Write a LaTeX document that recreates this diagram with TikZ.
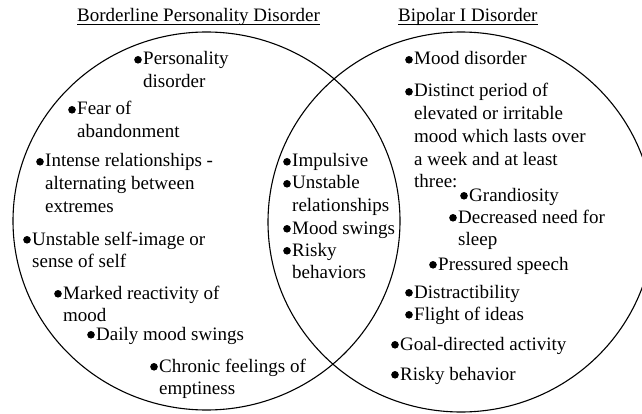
\documentclass[tikz,border=0pt]{standalone}
\usepackage{fontspec}
\setmainfont{Liberation Serif}
\tikzset{
  itm/.style={anchor=base west, inner sep=0pt, font=\fontsize{19}{22.7}\selectfont},
  ttl/.style={anchor=base west, inner sep=0pt, font=\fontsize{19}{22.7}\selectfont},
  ring/.style={draw, line width=1.1pt},
  bul/.style={fill=black}
}
\newcommand\bitem[3]{%
  \node[itm] (#1) at (#2) {\begin{tabular}[t]{@{}l@{}}#3\end{tabular}};
  \fill[bul] (#1.base west) ++(-5,-5.2) circle (3.8pt);
}
\begin{document}
\begin{tikzpicture}[x=1pt,y=-1pt]
\clip (0,0) rectangle (642,414);
\fill[white] (0,0) rectangle (642,414);
\draw[ring] (206.5,221) ellipse [x radius=193.5pt, y radius=189pt];
\draw[ring] (461,222) ellipse [x radius=193pt, y radius=190pt];
% titles
\node[ttl] (t1) at (77,22) {Borderline Personality Disorder};
\node[ttl] (t2) at (398,22) {Bipolar I Disorder};
\draw[line width=0.9pt] ([yshift=-2.5pt]t1.base west) -- ([yshift=-2.5pt]t1.base east);
\draw[line width=0.9pt] ([yshift=-2.5pt]t2.base west) -- ([yshift=-2.5pt]t2.base east);
% left
\bitem{a1}{143,65}{Personality\\disorder}
\bitem{a2}{77,115}{Fear of\\abandonment}
\bitem{a3}{45,167}{Intense relationships -\\alternating between\\extremes}
\bitem{a4}{32,245}{Unstable self-image or\\sense of self}
\bitem{a5}{63,299}{Marked reactivity of\\mood}
\bitem{a6}{96,340}{Daily mood swings}
\bitem{a7}{159,372}{Chronic feelings of\\emptiness}
% center
\bitem{c1}{292,167}{Impulsive}
\bitem{c2}{292,189}{Unstable\\relationships}
\bitem{c3}{292,234}{Mood swings}
\bitem{c4}{292,256}{Risky\\behaviors}
% right
\bitem{b1}{414,65}{Mood disorder}
\bitem{b2}{414,97}{Distinct period of\\elevated or irritable\\mood which lasts over\\a week and at least\\three:}
\bitem{b3}{469,201}{Grandiosity}
\bitem{b4}{458,223}{Decreased need for\\sleep}
\bitem{b5}{438,270}{Pressured speech}
\bitem{b6}{414,298}{Distractibility}
\bitem{b7}{414,320}{Flight of ideas}
\bitem{b8}{400,350}{Goal-directed activity}
\bitem{b9}{400,380}{Risky behavior}
\end{tikzpicture}
\end{document}
